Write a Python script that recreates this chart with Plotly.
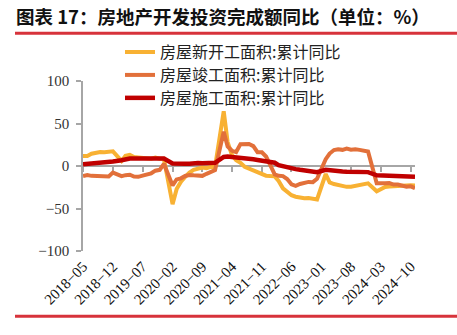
import plotly.graph_objects as go

# Months (cumulative data: January merged into February)
def months(year, start, end):
    return [f"{year}-{m:02d}-01" for m in range(start, end + 1)]

dates = (months(2018, 5, 12) + months(2019, 2, 12) + months(2020, 2, 12) +
         months(2021, 2, 12) + months(2022, 2, 12) + months(2023, 2, 12) +
         months(2024, 2, 11))

new_start = [11.8, 11.8, 14.4, 15.9, 16.4, 16.3, 16.8, 17.2,
             6.0, 11.9, 13.1, 10.5, 10.1, 9.5, 8.9, 8.6, 10.0, 8.6, 8.5,
             -44.9, -27.2, -18.4, -12.8, -7.6, -4.5, -3.6, -1.9, -2.6, -1.0, -1.2,
             64.3, 28.2, 12.8, 6.9, 3.8, -0.9, -3.2, -4.5, -7.7, -9.1, -11.4,
             -12.2, -17.5, -26.3, -30.6, -34.4, -36.1, -37.2, -38.0, -37.8, -38.9, -39.4,
             -9.4, -19.2, -21.2, -22.6, -24.3, -24.5, -24.4, -23.4, -23.2, -21.2, -20.4,
             -29.7, -27.8, -24.6, -24.2, -23.7, -23.2, -22.5, -22.2, -22.6, -23.0]

completed = [-11.9, -10.6, -11.6, -11.9, -11.4, -12.5, -12.3, -7.8,
             -11.9, -10.8, -10.3, -12.4, -12.7, -11.3, -10.0, -8.6, -5.5, -4.5, 2.6,
             -22.9, -15.8, -14.5, -11.7, -10.5, -11.0, -10.8, -11.6, -9.2, -7.3, -4.9,
             40.4, 22.9, 17.9, 16.4, 25.7, 25.7, 26.0, 23.4, 16.3, 16.2, 11.2,
             -9.8, -11.5, -11.9, -15.3, -21.5, -23.3, -21.1, -19.9, -18.7, -19.0, -15.0,
             8.0, 14.7, 18.8, 19.6, 19.0, 20.5, 19.2, 19.8, 19.0, 17.9, 17.0,
             -20.2, -20.7, -20.4, -20.1, -21.8, -21.8, -23.6, -24.4, -23.9, -26.2]

under_constr = [2.0, 2.4, 3.0, 3.2, 3.3, 3.5, 4.1, 5.2,
                6.8, 8.2, 8.8, 8.8, 8.8, 9.0, 8.8, 8.7, 9.0, 8.7, 8.7,
                2.9, 2.5, 2.5, 2.6, 2.6, 3.6, 3.4, 3.1, 3.0, 3.2, 3.7,
                10.6, 11.2, 10.5, 10.1, 10.2, 9.9, 8.9, 7.9, 7.1, 6.2, 5.2,
                3.8, 1.0, -0.5, -1.0, -2.8, -3.7, -4.5, -5.3, -5.7, -6.5, -7.2,
                -4.4, -5.2, -5.6, -6.2, -6.6, -6.8, -7.1, -7.1, -7.3, -7.2, -7.2,
                -11.0, -11.1, -10.8, -11.6, -12.0, -12.1, -12.0, -12.2, -12.4, -12.7]

series_names = ["房屋新开工面积:累计同比", "房屋竣工面积:累计同比", "房屋施工面积:累计同比"]
series_vals = [new_start, completed, under_constr]
series_colors = ["#F8B133", "#E2703A", "#C00000"]
series_widths = [4, 4, 4.5]
legend_ids = ["legend", "legend2", "legend3"]
legend_rows_px = [52, 75, 98]

title_text = "图表 17：房地产开发投资完成额同比（单位：%）"
y_ticks = [-100, -50, 0, 50, 100]

SERIF = "Liberation Serif, Times New Roman, serif"
CJK = "Noto Sans CJK SC"

# plot area geometry (px)
W, H = 457, 335
L, R, T, B = 83, 42, 81, 83.5
pw, ph = W - L - R, H - T - B
def px_x(p):
    return (p - L) / pw
def px_y(p):
    return (H - B - p) / ph

fig = go.Figure()
for name, vals, col, w, lg in zip(series_names, series_vals, series_colors,
                                  series_widths, legend_ids):
    fig.add_trace(go.Scatter(x=dates, y=vals, mode="lines", name=name,
                             line=dict(color=col, width=w), legend=lg))

xrange_ = ["2018-05-01", "2024-11-01"]
legend_layout = {}
for lg, row in zip(legend_ids, legend_rows_px):
    legend_layout[lg] = dict(x=px_x(120), y=px_y(row), xanchor="left", yanchor="middle",
                             font=dict(family=CJK, size=16, color="#222"),
                             bgcolor="rgba(0,0,0,0)", itemwidth=30)

fig.update_layout(
    width=W, height=H,
    margin=dict(l=L, r=R, t=T, b=B, pad=0),
    paper_bgcolor="white", plot_bgcolor="white",
    showlegend=True,
    **legend_layout,
    xaxis=dict(type="date", range=xrange_, tick0="2018-05-01", dtick="M7",
               tickformat="%Y\u2212%m", tickangle=-45, showline=False, ticks="",
               showgrid=False, zeroline=False, ticklabelstandoff=3,
               tickfont=dict(family=SERIF, size=15, color="#111")),
    xaxis2=dict(type="date", range=xrange_, tick0="2018-05-01", dtick="M7",
                overlaying="x", anchor="free", position=0.5, side="bottom",
                showline=True, linecolor="#a6a6a6", linewidth=1.5,
                ticks="outside", ticklen=5, tickcolor="#a6a6a6", tickwidth=1.5,
                showticklabels=False, showgrid=False, zeroline=False,
                layer="below traces"),
    yaxis=dict(range=[-100, 100], tickvals=y_ticks, showline=True,
               linecolor="#a6a6a6", linewidth=1.5, ticks="outside", ticklen=5,
               tickcolor="#a6a6a6", tickwidth=1.5, showgrid=False, zeroline=False,
               ticklabelstandoff=4,
               tickfont=dict(family=SERIF, size=15, color="#333")),
)
# invisible trace so the zero-line axis (x2) is drawn
fig.add_trace(go.Scatter(x=[dates[0]], y=[0], xaxis="x2", mode="markers",
                         marker=dict(opacity=0), showlegend=False, hoverinfo="skip"))

fig.add_annotation(text=title_text, xref="paper", yref="paper",
                   x=px_x(14), y=px_y(16), xanchor="left", yanchor="middle",
                   showarrow=False,
                   font=dict(family=CJK, size=18.5, color="#111", weight="bold"))
fig.add_shape(type="line", xref="paper", yref="paper",
              x0=px_x(15), x1=px_x(457), y0=px_y(33), y1=px_y(33),
              line=dict(color="#D7333B", width=3))
fig.add_shape(type="line", xref="paper", yref="paper",
              x0=px_x(15), x1=px_x(457), y0=px_y(317), y1=px_y(317),
              line=dict(color="#D7333B", width=3))

fig.write_html("out.html")
